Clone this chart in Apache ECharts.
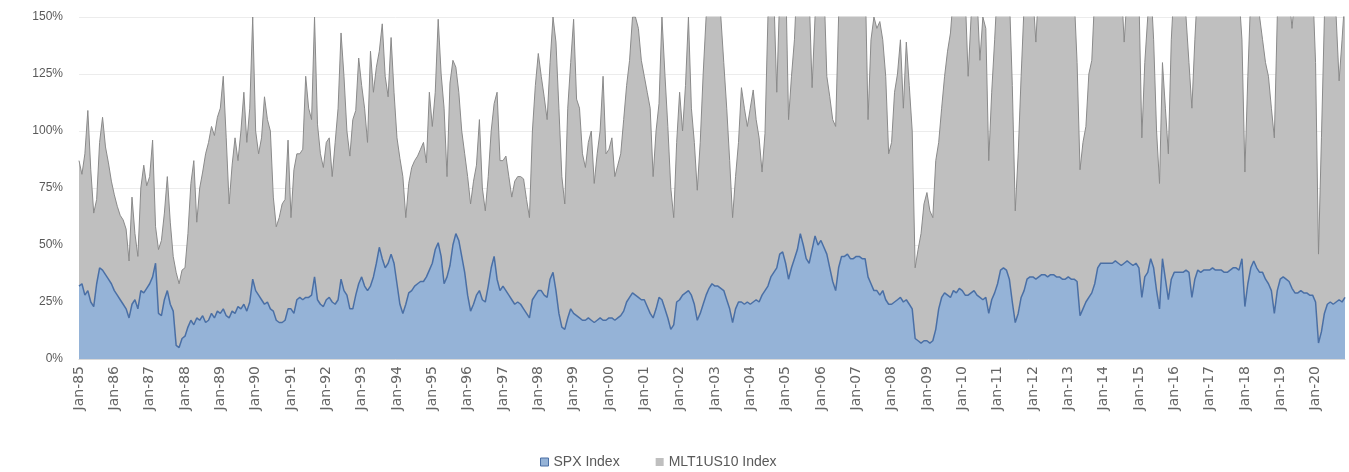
<!DOCTYPE html>
<html>
<head>
<meta charset="utf-8">
<script src="https://cdn.jsdelivr.net/npm/echarts@6/dist/echarts.min.js"></script>
<style>
  html, body { margin: 0; padding: 0; background: #fff; }
  #chart { width: 1349px; height: 472px; }
</style>
</head>
<body>
<div id="chart"></div>
<script>
// monthly, Jan-85 .. Nov-20
const startYear = 1985
const monthNames = ['Jan', 'Feb', 'Mar', 'Apr', 'May', 'Jun', 'Jul', 'Aug', 'Sep', 'Oct', 'Nov', 'Dec']
const yTicks = [0, 25, 50, 75, 100, 125, 150]

// SPX Index weight (%), one row per year
const spxIndex = [
  32, 33, 28, 30, 25, 23, 33, 40, 39, 37, 35, 33,
  30, 28, 26, 24, 22, 18, 24, 26, 22, 30, 29, 31,
  33, 36, 42, 20, 19, 26, 30, 24, 21, 6, 5, 9,
  10, 14, 17, 15, 18, 17, 19, 16, 17, 20, 18, 21,
  20, 22, 19, 18, 21, 20, 23, 22, 24, 21, 25, 35,
  30, 28, 26, 24, 25, 22, 21, 17, 16, 16, 17, 22,
  22, 20, 26, 27, 26, 27, 27, 28, 36, 26, 24, 23,
  26, 27, 25, 24, 26, 35, 30, 28, 22, 22, 28, 33,
  36, 32, 30, 32, 36, 42, 49, 44, 40, 42, 46, 42,
  33, 24, 20, 24, 29, 30, 32, 33, 34, 34, 36, 39,
  42, 48, 51, 45, 33, 36, 41, 50, 55, 52, 45, 38,
  28, 21, 24, 28, 30, 26, 25, 32, 40, 45, 35, 30,
  32, 30, 28, 26, 24, 25, 24, 22, 20, 18, 26, 28,
  30, 30, 28, 27, 35, 38, 30, 20, 14, 13, 18, 22,
  20, 19, 18, 17, 17, 18, 17, 16, 17, 18, 17, 17,
  18, 18, 17, 18, 19, 21, 25, 27, 29, 28, 27, 26,
  26, 23, 20, 18, 22, 27, 26, 22, 18, 13, 15, 25,
  26, 28, 29, 30, 28, 24, 17, 20, 24, 28, 31, 33,
  32, 32, 31, 30, 26, 22, 16, 22, 25, 25, 24, 25,
  24, 25, 26, 25, 28, 30, 32, 36, 38, 40, 46, 47,
  42, 35, 40, 44, 48, 55, 50, 44, 42, 48, 54, 50,
  52, 49, 46, 40, 34, 30, 40, 45, 45, 46, 44, 44,
  45, 45, 44, 44, 36, 33, 30, 30, 28, 30, 26, 24,
  24, 25, 26, 27, 25, 26, 24, 22, 9, 8, 7, 8,
  8, 7, 8, 13, 22, 27, 29, 28, 27, 30, 29, 31,
  30, 28, 28, 29, 30, 28, 27, 26, 27, 20, 26, 29,
  33, 39, 40, 39, 35, 25, 16, 20, 27, 30, 35, 36,
  36, 35, 36, 37, 37, 36, 37, 37, 36, 36, 35, 35,
  36, 35, 35, 34, 19, 22, 25, 27, 29, 33, 40, 42,
  42, 42, 42, 42, 43, 42, 41, 42, 43, 42, 41, 42,
  40, 27, 36, 38, 44, 40, 30, 22, 44, 35, 26, 35,
  38, 38, 38, 38, 39, 38, 27, 35, 39, 38, 39, 39,
  39, 40, 39, 39, 39, 38, 38, 39, 40, 40, 39, 44,
  23, 33, 40, 43, 40, 38, 38, 35, 33, 30, 20, 30,
  35, 36, 35, 34, 31, 29, 29, 30, 29, 29, 28, 28,
  25, 7, 12, 20, 24, 25, 24, 25, 26, 25, 27
]

// top of the stack (SPX + MLT1US10); > 150 is clipped
const stackTop = [
  87, 81, 90, 109, 83, 64, 70, 95, 106, 93, 86, 78,
  72, 67, 63, 61, 57, 43, 71, 55, 45, 75, 85, 76,
  80, 96, 58, 48, 52, 64, 80, 60, 45, 38, 33, 39,
  40, 55, 77, 87, 60, 75, 82, 90, 95, 102, 98, 106,
  110, 124, 97, 68, 85, 97, 87, 100, 117, 95, 110, 150,
  100, 90, 97, 115, 105, 100, 71, 58, 62, 68, 70, 96,
  62, 83, 90, 90, 92, 124, 110, 105, 150, 103, 90, 84,
  95, 97, 80, 95, 110, 143, 124, 100, 89, 105, 109, 132,
  120, 110, 95, 135, 117, 128, 135, 147, 124, 115, 141, 117,
  97, 88, 80, 62, 77, 84, 87, 89, 92, 95, 86, 117,
  102, 117, 149, 125, 110, 80, 121, 131, 128, 117, 100, 90,
  80, 68, 78, 85, 105, 75, 65, 80, 100, 112, 117, 87,
  87, 89, 80, 71, 78, 80, 80, 79, 70, 62, 100, 120,
  134, 124, 115, 105, 130, 150, 139, 110, 80, 68, 110, 130,
  149, 114, 110, 90, 84, 95, 100, 77, 90, 100, 124, 90,
  92, 97, 80, 85, 90, 105, 120, 131, 150, 150, 145, 131,
  124, 117, 110, 80, 100, 112, 150, 125, 102, 75, 62, 95,
  117, 100, 120, 150, 110, 95, 74, 95, 125, 150, 160, 170,
  170, 165, 150, 130, 110, 87, 62, 80, 95, 119, 110, 102,
  110, 118, 105, 97, 82, 99, 150, 165, 160, 117, 160, 165,
  170, 105, 124, 140, 170, 170, 170, 165, 160, 119, 150, 170,
  170, 165, 124, 115, 105, 102, 150, 175, 180, 180, 175, 170,
  180, 180, 175, 170, 105, 140, 150, 145, 148, 140, 124, 90,
  95, 117, 125, 140, 110, 139, 120, 100, 40, 48, 55, 68,
  73, 65, 62, 87, 95, 110, 124, 135, 143, 160, 170, 165,
  170, 160, 124, 150, 165, 160, 131, 150, 145, 87, 117, 140,
  165, 170, 175, 170, 160, 120, 65, 90, 124, 155, 170, 165,
  160, 139, 165, 170, 170, 165, 170, 175, 170, 165, 170, 165,
  165, 170, 160, 130, 83, 95, 102, 125, 131, 160, 170, 170,
  170, 175, 170, 165, 170, 175, 165, 139, 160, 170, 175, 170,
  160, 97, 130, 150, 165, 140, 100, 77, 130, 110, 90, 140,
  165, 170, 165, 160, 150, 130, 110, 140, 165, 170, 165, 170,
  170, 175, 170, 165, 170, 175, 170, 165, 170, 170, 160, 140,
  82, 124, 160, 165, 170, 150, 140, 130, 124, 110, 97, 150,
  170, 170, 165, 160, 145, 160, 170, 175, 170, 165, 170, 165,
  130, 46, 97, 150, 170, 165, 160, 150, 122, 140, 160
]

const months = spxIndex.map((_, i) => {
  const y = startYear + Math.floor(i / 12)
  return `${monthNames[i % 12]}-${String(y % 100).padStart(2, '0')}`
})
const mltIndex = stackTop.map((t, i) => t - spxIndex[i])

const narrow = '"Liberation Sans Narrow", "Liberation Sans", Arial, sans-serif'
const chart = echarts.init(document.getElementById('chart'))
chart.setOption({
  animation: false,
  backgroundColor: '#ffffff',
  grid: { left: 79, right: 4, top: 17, bottom: 113 },
  legend: {
    top: 450,
    left: 535,
    itemWidth: 8,
    itemHeight: 8,
    itemGap: 36,
    icon: 'rect',
    textStyle: { color: '#595959', fontSize: 14, fontFamily: narrow },
    data: [
      { name: 'SPX Index', itemStyle: { color: '#95b3d7', borderColor: '#4a6fa5', borderWidth: 1 } },
      { name: 'MLT1US10 Index', itemStyle: { color: '#bfbfbf', borderColor: '#bfbfbf', borderWidth: 0 } }
    ]
  },
  xAxis: {
    type: 'category',
    data: months,
    boundaryGap: false,
    axisLine: { lineStyle: { color: '#d9d9d9' } },
    axisTick: { show: false },
    axisLabel: {
      interval: 11,
      rotate: 90,
      color: '#666666',
      fontSize: 14,
      fontFamily: '"DejaVu Sans", sans-serif',
      margin: 7
    },
    splitLine: { show: false }
  },
  yAxis: {
    type: 'value',
    min: yTicks[0],
    max: yTicks[yTicks.length - 1],
    interval: 25,
    axisLine: { show: false },
    axisTick: { show: false },
    axisLabel: {
      formatter: '{value}%',
      color: '#595959',
      fontSize: 12,
      fontFamily: narrow,
      margin: 16
    },
    splitLine: { lineStyle: { color: '#ececec', width: 1 } }
  },
  series: [
    {
      name: 'SPX Index',
      type: 'line',
      stack: 'total',
      symbol: 'none',
      clip: true,
      lineStyle: { color: '#4a6fa5', width: 1.5 },
      itemStyle: { color: '#95b3d7' },
      areaStyle: { color: '#95b3d7', opacity: 1 },
      data: spxIndex
    },
    {
      name: 'MLT1US10 Index',
      type: 'line',
      stack: 'total',
      symbol: 'none',
      clip: true,
      lineStyle: { color: '#8a8a8a', width: 1 },
      itemStyle: { color: '#bfbfbf' },
      areaStyle: { color: '#bfbfbf', opacity: 1 },
      data: mltIndex,
      z: 1
    }
  ]
})
</script>
</body>
</html>
